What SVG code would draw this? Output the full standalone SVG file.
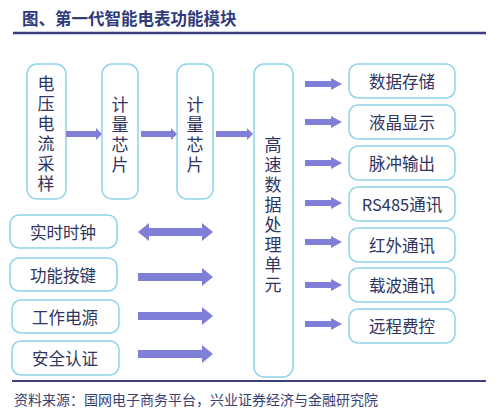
<svg xmlns="http://www.w3.org/2000/svg" width="499" height="410" viewBox="0 0 499 410">
<style>
.t{font-family:"Noto Sans CJK SC","Noto Sans",sans-serif;fill:#2f3560;text-anchor:middle;dominant-baseline:central}
.box{fill:#fff;stroke:#8fd4ea;stroke-width:1.5}
.arr{fill:#7f7fd8}
.title{font-family:"Noto Sans CJK SC","Noto Sans",sans-serif;font-weight:bold;font-size:16.5px;fill:#2e3a7c}
.src{font-family:"Noto Sans CJK SC","Noto Sans",sans-serif;font-size:14px;fill:#3a4170}
</style>
<rect width="499" height="410" fill="#fff"/>
<text class="title" x="22" y="25">图、第一代智能电表功能模块</text>
<line x1="13" y1="33" x2="486" y2="33" stroke="#3b3f7e" stroke-width="2.5"/>

<g id="n_sample"><rect class="box" x="27" y="64" width="39" height="135" rx="10"/>
<text class="t" font-size="17"><tspan x="46" y="82">电</tspan><tspan x="46" y="102">压</tspan><tspan x="46" y="122">电</tspan><tspan x="46" y="142">流</tspan><tspan x="46" y="162">采</tspan><tspan x="46" y="182">样</tspan></text></g>
<g id="n_chip1"><rect class="box" x="102" y="64" width="36" height="135" rx="10"/>
<text class="t" font-size="17"><tspan x="120" y="103">计</tspan><tspan x="120" y="123">量</tspan><tspan x="120" y="143">芯</tspan><tspan x="120" y="163">片</tspan></text></g>
<g id="n_chip2"><rect class="box" x="177" y="64" width="36" height="135" rx="10"/>
<text class="t" font-size="17"><tspan x="195" y="103">计</tspan><tspan x="195" y="123">量</tspan><tspan x="195" y="143">芯</tspan><tspan x="195" y="163">片</tspan></text></g>
<g id="n_cpu"><rect class="box" x="254" y="64" width="39" height="313" rx="10"/>
<text class="t" font-size="17"><tspan x="273" y="143">高</tspan><tspan x="273" y="163">速</tspan><tspan x="273" y="183">数</tspan><tspan x="273" y="203">据</tspan><tspan x="273" y="223">处</tspan><tspan x="273" y="243">理</tspan><tspan x="273" y="263">单</tspan><tspan x="273" y="283">元</tspan></text></g>

<g id="n_store"><rect class="box" x="349" y="64" width="106" height="34" rx="9"/><text class="t" font-size="16.5" x="402" y="81">数据存储</text></g>
<g id="n_lcd"><rect class="box" x="349" y="105" width="106" height="34" rx="9"/><text class="t" font-size="16.5" x="402" y="122">液晶显示</text></g>
<g id="n_pulse"><rect class="box" x="349" y="146" width="106" height="34" rx="9"/><text class="t" font-size="16.5" x="402" y="163">脉冲输出</text></g>
<g id="n_rs485"><rect class="box" x="349" y="187" width="106" height="34" rx="9"/><text class="t" font-size="16.5" x="402" y="204">RS485通讯</text></g>
<g id="n_ir"><rect class="box" x="349" y="228" width="106" height="34" rx="9"/><text class="t" font-size="16.5" x="402" y="245">红外通讯</text></g>
<g id="n_plc"><rect class="box" x="349" y="268" width="106" height="34" rx="9"/><text class="t" font-size="16.5" x="402" y="285">载波通讯</text></g>
<g id="n_remote"><rect class="box" x="349" y="309" width="106" height="34" rx="9"/><text class="t" font-size="16.5" x="402" y="326">远程费控</text></g>

<g id="n_rtc"><rect class="box" x="10" y="215" width="107" height="33" rx="9"/><text class="t" font-size="16.5" x="63" y="232">实时时钟</text></g>
<g id="n_key"><rect class="box" x="10" y="258" width="107" height="33" rx="9"/><text class="t" font-size="16.5" x="63" y="275">功能按键</text></g>
<g id="n_power"><rect class="box" x="12" y="300" width="107" height="33" rx="9"/><text class="t" font-size="16.5" x="65" y="317">工作电源</text></g>
<g id="n_auth"><rect class="box" x="12" y="341" width="107" height="34" rx="9"/><text class="t" font-size="16.5" x="65" y="358">安全认证</text></g>

<g id="connectors" class="arr">
<polygon points="66,131 96,131 96,128 102,134 96,140 96,137 66,137"/>
<polygon points="141,131 171,131 171,128 177,134 171,140 171,137 141,137"/>
<polygon points="216,131 247,131 247,128 253,134 247,140 247,137 216,137"/>

<polygon points="305,81 331,81 331,78 342,84 331,90 331,87 305,87"/>
<polygon points="305,119 331,119 331,116 342,122 331,128 331,125 305,125"/>
<polygon points="305,160 331,160 331,157 342,163 331,169 331,166 305,166"/>
<polygon points="305,200 331,200 331,197 342,203 331,209 331,206 305,206"/>
<polygon points="305,239 331,239 331,236 342,242 331,248 331,245 305,245"/>
<polygon points="305,282 331,282 331,279 342,285 331,291 331,288 305,288"/>
<polygon points="305,321 331,321 331,318 342,324 331,330 331,327 305,327"/>

<polygon points="138,232 149,223 149,228 202,228 202,223 213,232 202,241 202,236 149,236 149,241"/>
<polygon points="138,273 202,273 202,268 213,277 202,286 202,281 138,281"/>
<polygon points="138,312 202,312 202,307 213,316 202,325 202,320 138,320"/>
<polygon points="138,350 202,350 202,345 213,354 202,363 202,358 138,358"/>
</g>

<line x1="12" y1="381" x2="486" y2="381" stroke="#3b3f7e" stroke-width="2"/>
<text class="src" x="14" y="405">资料来源：国网电子商务平台，兴业证券经济与金融研究院</text>
</svg>
